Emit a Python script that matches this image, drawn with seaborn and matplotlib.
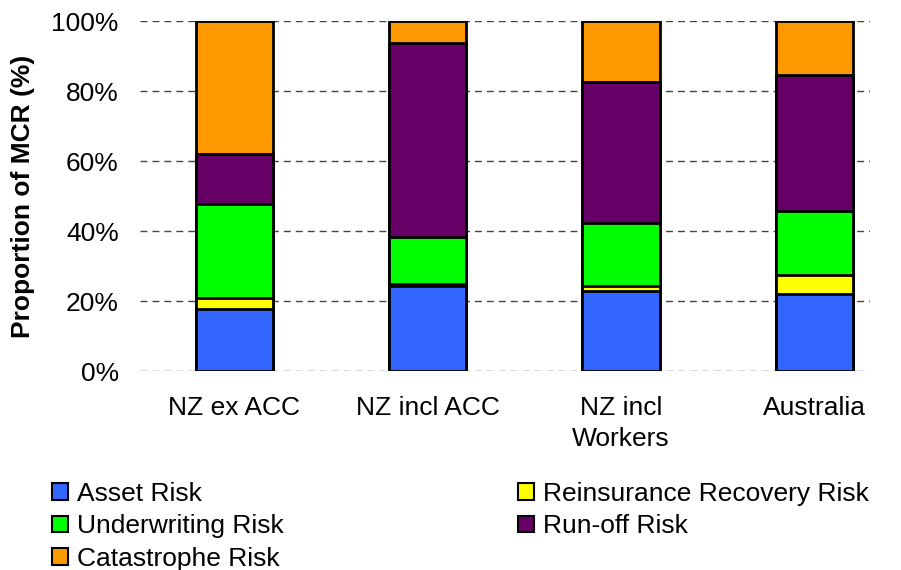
import matplotlib
matplotlib.use("Agg")
import matplotlib.pyplot as plt
from matplotlib.patches import Patch
from matplotlib.ticker import PercentFormatter
import numpy as np
import pandas as pd
import seaborn as sns

categories = ["NZ ex ACC", "NZ incl ACC", "NZ incl\nWorkers", "Australia"]
asset = [17.7, 24.4, 22.9, 22.1]
reinsurance = [3.3, 0.6, 1.5, 5.4]
underwriting = [26.6, 13.2, 18.0, 18.3]
runoff = [14.5, 55.4, 40.1, 38.7]
catastrophe = [37.9, 6.4, 17.5, 15.5]

series = ["Asset Risk", "Reinsurance Recovery Risk", "Underwriting Risk",
          "Run-off Risk", "Catastrophe Risk"]
colours = ["#3366FF", "#FFFF00", "#00FF00", "#660066", "#FF9900"]

df = pd.DataFrame({"cat": categories, series[0]: asset, series[1]: reinsurance,
                   series[2]: underwriting, series[3]: runoff, series[4]: catastrophe})
cum = df[series].cumsum(axis=1)

sns.set_style("white")
plt.rcParams["font.family"] = ["Liberation Sans", "DejaVu Sans"]
plt.rcParams["text.color"] = "black"
plt.rcParams["axes.labelcolor"] = "black"
plt.rcParams["xtick.color"] = "black"
plt.rcParams["ytick.color"] = "black"

fig, ax = plt.subplots(figsize=(9.01, 5.70), dpi=100)
fig.subplots_adjust(left=0.155, right=0.966, bottom=0.349, top=0.963)

# stack: draw the tallest cumulative first, smaller ones on top
for name, col in reversed(list(zip(series, colours))):
    sns.barplot(x=df["cat"], y=cum[name], order=categories, color=col,
                edgecolor="black", linewidth=2, width=0.4, errorbar=None,
                saturation=1, ax=ax)

ax.set_ylim(0, 100)
ax.set_xlim(-0.49, 3.29)
ax.set_yticks(np.arange(0, 101, 20))
ax.yaxis.set_major_formatter(PercentFormatter(decimals=0))
ax.set_axisbelow(True)
ax.yaxis.grid(True, color="#444444", linewidth=1, linestyle=(0, (5, 3.6)))
ax.xaxis.grid(False)
for s in ax.spines.values():
    s.set_visible(False)
ax.tick_params(axis="y", labelsize=19, pad=15, length=0)
ax.tick_params(axis="x", labelsize=19, pad=18, length=0)
for t in ax.get_xticklabels():
    t.set_linespacing(1.38)
ax.set_xlabel("")
ax.set_ylabel("Proportion of MCR (%)", fontsize=19, fontweight="bold", labelpad=12)

handles = [Patch(facecolor=c, edgecolor="black", linewidth=1.5) for c in colours]
order = [0, 2, 4, 1, 3]
fig.legend([handles[i] for i in order], [series[i] for i in order],
           loc="upper left", bbox_to_anchor=(0.0577, 0.155), ncol=2,
           frameon=False, fontsize=19, handlelength=0.6, handleheight=0.6,
           handletextpad=0.34, labelspacing=0.33, columnspacing=8.9,
           borderpad=0, borderaxespad=0)

fig.savefig("out.png", dpi=100)
